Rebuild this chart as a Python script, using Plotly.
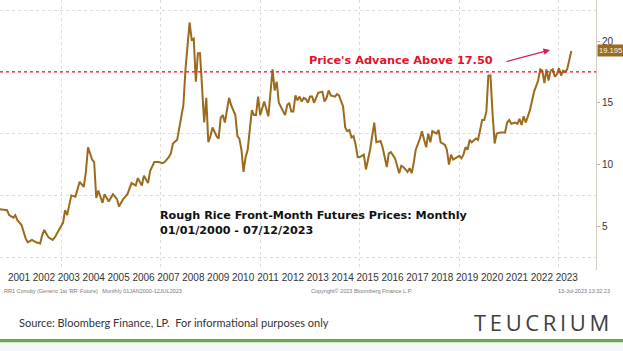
import plotly.graph_objects as go

# ---- data ----
dates = [
    "2000-07", "2000-11", "2000-12",
    "2001-02", "2001-03", "2001-04", "2001-06", "2001-08", "2001-09", "2001-11",
    "2002-01", "2002-03", "2002-04", "2002-05", "2002-07", "2002-09", "2002-10", "2002-12",
    "2003-02", "2003-03", "2003-04", "2003-06", "2003-08", "2003-10", "2003-12",
    "2004-01", "2004-02", "2004-04", "2004-05", "2004-06", "2004-07", "2004-09", "2004-10", "2004-12",
    "2005-02", "2005-04", "2005-05", "2005-07", "2005-09", "2005-11",
    "2006-01", "2006-02", "2006-04", "2006-05", "2006-07", "2006-08", "2006-09", "2006-10", "2006-12",
    "2007-02", "2007-03", "2007-05", "2007-06", "2007-07", "2007-09", "2007-10", "2007-12",
    "2008-01", "2008-02", "2008-03", "2008-04", "2008-05", "2008-06", "2008-07", "2008-08",
    "2008-09", "2008-10", "2008-11", "2008-12",
    "2009-01", "2009-02", "2009-04", "2009-05", "2009-06", "2009-07", "2009-08", "2009-10", "2009-11",
    "2010-01", "2010-02", "2010-03", "2010-04", "2010-05", "2010-06", "2010-07", "2010-09",
    "2010-10", "2010-11", "2010-12",
    "2011-01", "2011-02", "2011-03", "2011-05", "2011-06", "2011-07", "2011-08", "2011-09",
    "2011-10", "2011-11",
    "2012-01", "2012-02", "2012-03", "2012-04", "2012-05", "2012-06", "2012-07", "2012-08",
    "2012-09", "2012-10", "2012-11", "2012-12",
    "2013-01", "2013-02", "2013-03", "2013-05", "2013-07", "2013-08", "2013-09", "2013-10", "2013-11",
    "2014-01", "2014-02", "2014-03", "2014-05", "2014-06", "2014-07", "2014-08", "2014-09",
    "2014-10", "2014-11", "2014-12",
    "2015-01", "2015-03", "2015-04", "2015-06", "2015-07", "2015-08", "2015-09", "2015-11", "2015-12",
    "2016-02", "2016-03", "2016-04", "2016-06", "2016-08", "2016-09", "2016-10", "2016-11", "2016-12",
    "2017-01", "2017-02", "2017-03", "2017-04", "2017-06", "2017-07", "2017-08", "2017-09",
    "2017-10", "2017-11", "2017-12",
    "2018-02", "2018-03", "2018-04", "2018-06", "2018-07", "2018-08", "2018-09", "2018-10", "2018-11",
    "2019-01", "2019-02", "2019-03", "2019-04", "2019-05", "2019-06", "2019-07", "2019-09",
    "2019-10", "2019-11", "2019-12",
    "2020-01", "2020-02", "2020-03", "2020-04", "2020-05", "2020-06", "2020-07", "2020-09",
    "2020-11", "2020-12",
    "2021-01", "2021-02", "2021-04", "2021-05", "2021-06", "2021-07", "2021-08", "2021-09",
    "2021-11", "2021-12",
    "2022-01", "2022-03", "2022-04", "2022-05", "2022-06", "2022-07", "2022-08", "2022-09",
    "2022-10", "2022-11", "2022-12",
    "2023-01", "2023-02", "2023-03", "2023-04", "2023-05", "2023-06", "2023-07",
]
prices = [
    6.4, 6.3, 5.9,
    5.7, 5.9, 5.5, 5.1, 4.0, 3.7, 3.9,
    3.7, 3.6, 4.3, 4.7, 4.1, 3.9, 4.1, 4.7,
    5.3, 6.3, 5.9, 7.5, 7.4, 8.6, 8.2,
    9.4, 11.4, 10.4, 10.2, 7.3, 7.9, 6.9, 7.6, 7.0,
    7.6, 7.2, 6.6, 7.2, 7.6, 8.5,
    8.3, 8.9, 8.3, 9.1, 8.5, 9.5, 9.8, 10.2, 10.2,
    10.1, 10.2, 10.6, 10.9, 11.7, 12.0, 13.0, 14.8,
    17.7, 19.8, 21.5, 20.1, 20.2, 16.7, 19.0, 19.0,
    16.0, 13.4, 15.4, 11.8,
    12.3, 13.0, 12.3, 12.1, 13.8, 14.0, 13.4, 15.4, 14.8,
    14.0, 12.3, 12.1, 11.2, 9.4, 10.6, 11.2, 14.4,
    14.0, 14.0, 15.5,
    14.0, 14.6, 15.1, 13.9, 16.0, 17.7, 16.0, 16.7,
    15.0, 14.7,
    14.0, 14.8, 15.0, 14.3, 14.3, 15.6, 15.2, 15.5,
    15.1, 15.4, 15.3, 15.0,
    15.5, 15.5, 15.0, 15.8, 15.9, 15.1, 15.4, 16.0, 15.6,
    15.5, 15.7, 15.6, 14.7, 13.0, 12.7, 12.8, 12.2,
    12.3, 11.6, 10.6,
    10.6, 10.8, 9.6, 11.2, 12.2, 13.4, 11.8, 11.9, 11.4,
    9.8, 10.9, 11.0, 10.5, 9.3, 9.9, 9.8, 9.6, 9.4,
    9.7, 9.3, 10.1, 11.2, 12.1, 12.7, 12.0, 11.4,
    12.5, 11.8, 12.7,
    12.5, 12.8, 11.8, 11.6, 11.2, 10.0, 10.8, 10.4, 10.5,
    10.7, 10.5, 10.8, 11.4, 11.2, 12.0, 11.8, 12.1,
    12.0, 12.8, 13.6,
    13.6, 14.3, 17.2, 17.2, 14.2, 11.7, 12.5, 12.6,
    12.6, 13.4,
    13.6, 13.3, 13.4, 13.3, 13.7, 13.2, 13.9, 13.4,
    14.4, 15.1,
    15.9, 16.8, 17.7, 17.6, 16.6, 17.7, 16.8, 17.6,
    17.7, 17.1, 17.3,
    17.8, 17.2, 17.6, 17.5, 17.7, 18.5, 19.195,
]
year_labels = [str(y) for y in range(2001, 2024)]
year_label_dates = [f"{y}-04-25" for y in range(2001, 2024)]
y_ticks = [5, 10, 15, 20]
threshold = 17.5
last_price = prices[-1]

LINE_COLOR = "#9b6a1d"
RED = "#e3132c"
NARROW = "Liberation Sans Narrow, Arial Narrow, Liberation Sans, Arial"

fig = go.Figure()
fig.add_trace(go.Scatter(
    x=dates, y=prices, mode="lines",
    line=dict(color=LINE_COLOR, width=2),
    hoverinfo="skip",
))

W, H = 623, 351
PL, PR, PT, PB = 0, 27, 0, 81
pw, ph = W - PL - PR, H - PT - PB


def px_x(x):
    return (x - PL) / pw


def px_y(y):
    return 1 - (y - PT) / ph


fig.update_layout(
    width=W, height=H,
    margin=dict(l=PL, r=PR, t=PT, b=PB),
    paper_bgcolor="white", plot_bgcolor="white",
    showlegend=False,
    xaxis=dict(
        type="date",
        range=["2000-07-20", "2024-06-27"],
        tickvals=year_label_dates, ticktext=year_labels,
        tickangle=0,
        ticks="", showgrid=False, zeroline=False, showline=False,
        tickfont=dict(family=NARROW, size=10, color="#333333"),
        minor=dict(tick0="2003-01-01", dtick="M48", showgrid=True,
                   gridcolor="#dcdcdc", griddash="dot", gridwidth=1, ticks=""),
    ),
    yaxis=dict(
        side="right",
        range=[1.46, 23.32],
        tickvals=y_ticks,
        ticks="outside", ticklen=3, tickcolor="#b9b2a6",
        showline=True, linecolor="#d2cbbf", linewidth=1,
        showgrid=False, zeroline=False,
        tickfont=dict(family=NARROW, size=10, color="#333333"),
        minor=dict(tick0=2.5, dtick=5, showgrid=True,
                   gridcolor="#dcdcdc", griddash="dot", gridwidth=1, ticks=""),
    ),
)

# threshold line
fig.add_shape(type="line", xref="paper", yref="y", x0=0, x1=1, y0=threshold, y1=threshold,
              line=dict(color=RED, width=1.2, dash="3px,3px"))

# footer bars
fig.add_shape(type="rect", xref="paper", yref="paper", x0=0, x1=W / pw,
              y0=px_y(342.5), y1=px_y(339), line=dict(width=0), fillcolor="#6aa84f", layer="above")
fig.add_shape(type="rect", xref="paper", yref="paper", x0=0, x1=W / pw,
              y0=px_y(351), y1=px_y(342.5), line=dict(width=0), fillcolor="#f1f9fc", layer="above")

ann = []
ann.append(dict(
    xref="paper", yref="paper", x=px_x(158), y=px_y(222.5),
    xanchor="left", yanchor="middle", align="left", showarrow=False,
    text="Rough Rice Front-Month Futures Prices: Monthly<br>01/01/2000 - 07/12/2023",
    font=dict(family="DejaVu Sans", size=11.2, color="#111111", weight="bold"),
))
ann.append(dict(
    xref="paper", yref="paper", x=px_x(495), y=px_y(61),
    xanchor="right", yanchor="middle", showarrow=False,
    text="Price's Advance Above 17.50",
    font=dict(family="DejaVu Sans", size=11.3, color=RED, weight="bold"),
))
ann.append(dict(
    xref="paper", yref="paper", x=px_x(550), y=px_y(50),
    axref="pixel", ayref="pixel", ax=-45, ay=12,
    showarrow=True, text="", arrowhead=2, arrowsize=1, arrowwidth=1.3,
    arrowcolor="#d81b4f",
))
ann.append(dict(
    xref="paper", yref="y", x=px_x(597), y=last_price,
    xanchor="left", yanchor="middle", showarrow=False,
    text=f"{last_price:.3f}", bgcolor="#9a6a1e", borderpad=1,
    font=dict(family="Liberation Sans, Arial", size=7.6, color="#fff6e6"),
))
small = dict(family="Liberation Sans, Arial", size=5.5, color="#777777")
ann.append(dict(xref="paper", yref="paper", x=px_x(2), y=px_y(291), xanchor="left", yanchor="middle",
                showarrow=False, text="RR1 Comdty (Generic 1st 'RR' Future)   Monthly 01JAN2000-12JUL2023",
                font=small))
ann.append(dict(xref="paper", yref="paper", x=px_x(362), y=px_y(291), xanchor="center", yanchor="middle",
                showarrow=False, text="Copyright© 2023 Bloomberg Finance L.P.", font=small))
ann.append(dict(xref="paper", yref="paper", x=px_x(612), y=px_y(291), xanchor="right", yanchor="middle",
                showarrow=False, text="13-Jul-2023 13:32:23", font=small))
ann.append(dict(xref="paper", yref="paper", x=px_x(17), y=px_y(322), xanchor="left", yanchor="middle",
                showarrow=False, text="Source: Bloomberg Finance, LP.  For informational purposes only",
                font=dict(family="Lato, Liberation Sans, Arial", size=11, color="#333333")))
ann.append(dict(xref="paper", yref="paper", x=px_x(611), y=px_y(322), xanchor="right", yanchor="middle",
                showarrow=False, text="T\u2009E\u2009U\u2009C\u2009R\u2009I\u2009U\u2009M",
                font=dict(family="Open Sans, Lato, Arial", size=22, color="#404040")))
fig.update_layout(annotations=ann)

fig.write_html("out.html")
